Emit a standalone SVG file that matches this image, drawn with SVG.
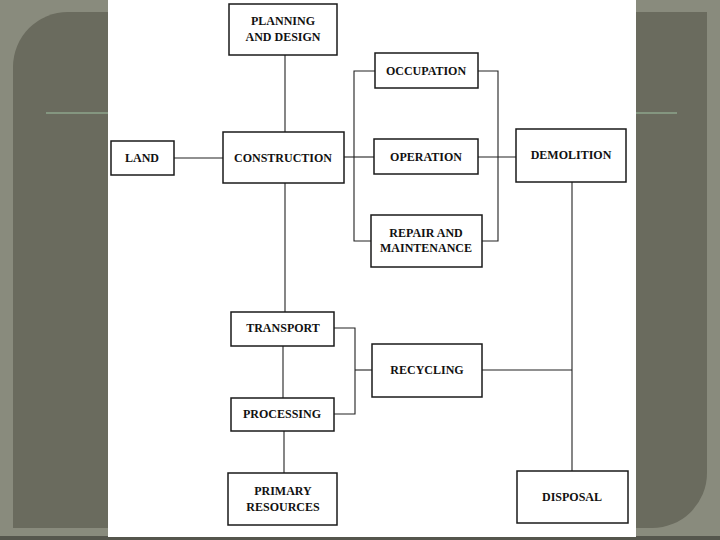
<svg xmlns="http://www.w3.org/2000/svg" width="720" height="540" viewBox="0 0 720 540">
<style>
.box{fill:#fff;stroke:#1a1a1a;stroke-width:1.5}
.lbl{font-family:"Liberation Serif","Times New Roman",serif;font-weight:bold;font-size:12px;fill:#111;text-anchor:middle}
.con{fill:none;stroke:#222;stroke-width:1.1}
</style>
<rect x="0" y="0" width="720" height="540" fill="#898b7d"/>
<path d="M68 12 H707 V473 A55 55 0 0 1 652 528 H13 V67 A55 55 0 0 1 68 12 Z" fill="#6a6b5e"/>
<line x1="46" y1="113" x2="677" y2="113" stroke="#8ea48c" stroke-width="1.5"/>
<rect x="0" y="536" width="720" height="4" fill="#55564d"/>
<rect x="108" y="0" width="528" height="537" fill="#fff"/>
<g id="connectors">
<path class="con" d="M285 55 V132"/>
<path class="con" d="M174 158 H223"/>
<path class="con" d="M344 157 H354"/>
<path class="con" d="M375 71 H354 V241 H371"/>
<path class="con" d="M354 157 H374"/>
<path class="con" d="M478 71 H498 V241 H482"/>
<path class="con" d="M478 157 H516"/>
<path class="con" d="M285 183 V312"/>
<path class="con" d="M283 346 V398"/>
<path class="con" d="M284 431 V473"/>
<path class="con" d="M334 328 H355 V414 H334"/>
<path class="con" d="M355 370 H372"/>
<path class="con" d="M482 370 H572"/>
<path class="con" d="M572 182 V471"/>
</g>
<g id="planning"><rect class="box" x="229" y="4" width="108" height="51"/><text class="lbl" x="283" y="25">PLANNING</text><text class="lbl" x="283" y="41">AND DESIGN</text></g>
<g id="land"><rect class="box" x="111" y="141" width="63" height="34"/><text class="lbl" x="142" y="162">LAND</text></g>
<g id="construction"><rect class="box" x="223" y="132" width="121" height="51"/><text class="lbl" x="283" y="162">CONSTRUCTION</text></g>
<g id="occupation"><rect class="box" x="375" y="53" width="103" height="35"/><text class="lbl" x="426" y="75">OCCUPATION</text></g>
<g id="operation"><rect class="box" x="374" y="139" width="104" height="35"/><text class="lbl" x="426" y="161">OPERATION</text></g>
<g id="repair"><rect class="box" x="371" y="215" width="111" height="52"/><text class="lbl" x="426" y="237">REPAIR AND</text><text class="lbl" x="426" y="252">MAINTENANCE</text></g>
<g id="demolition"><rect class="box" x="516" y="129" width="110" height="53"/><text class="lbl" x="571" y="159">DEMOLITION</text></g>
<g id="transport"><rect class="box" x="231" y="312" width="103" height="34"/><text class="lbl" x="283" y="332">TRANSPORT</text></g>
<g id="recycling"><rect class="box" x="372" y="344" width="110" height="53"/><text class="lbl" x="427" y="374">RECYCLING</text></g>
<g id="processing"><rect class="box" x="231" y="398" width="103" height="33"/><text class="lbl" x="282" y="418">PROCESSING</text></g>
<g id="primary"><rect class="box" x="228" y="473" width="109" height="52"/><text class="lbl" x="283" y="495">PRIMARY</text><text class="lbl" x="283" y="511">RESOURCES</text></g>
<g id="disposal"><rect class="box" x="517" y="471" width="111" height="52"/><text class="lbl" x="572" y="501">DISPOSAL</text></g>
</svg>
